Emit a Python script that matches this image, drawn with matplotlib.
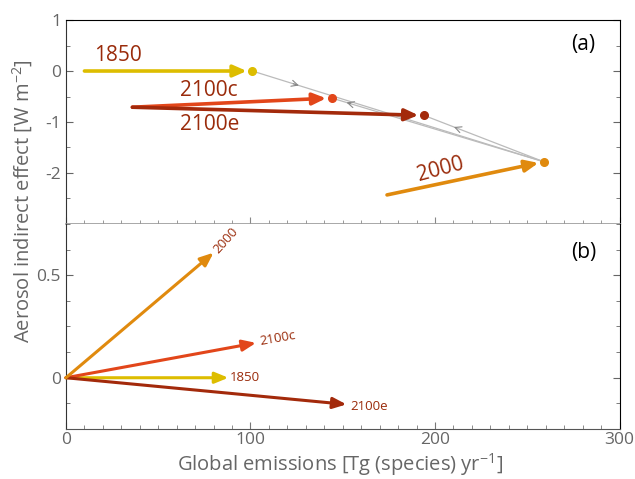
import matplotlib
matplotlib.use("Agg")
import matplotlib.pyplot as plt
from matplotlib.ticker import MultipleLocator

plt.rcParams['font.family'] = ['Open Sans', 'DejaVu Sans']

# Panel (a): emissions [Tg/yr] vs aerosol indirect effect [W m-2]
cases = ["1850", "2100c", "2100e", "2000"]
start_emis = [10, 36, 36, 174]
start_aie = [0.0, -0.71, -0.71, -2.43]
end_emis = [101, 144, 194, 259]
end_aie = [0.0, -0.53, -0.87, -1.78]

# Panel (b): sensitivity vectors from the origin
vec_emis = [88, 103, 152, 80]
vec_aie = [0.0, 0.17, -0.13, 0.61]

colors = {"1850": "#DDBD00", "2000": "#E08A0E", "2100c": "#E2461A", "2100e": "#A32A0B"}
text_col = "#9A2B0B"
gray_txt = "#666666"

fig = plt.figure(figsize=(6.35, 4.79), dpi=100)
ax_a = fig.add_axes([0.1039, 0.5324, 0.8717, 0.4258])
ax_b = fig.add_axes([0.1039, 0.1044, 0.8717, 0.4280])

# gray trajectories between scenario endpoints, with direction chevrons
i1850, i2100c, i2100e, i2000 = 0, 1, 2, 3
paths = [(i1850, i2000, 0.14), (i2000, i2100c, 0.91), (i2000, i2100e, 0.73)]
for a, b, frac in paths:
    xa, ya = end_emis[a], end_aie[a]
    xb, yb = end_emis[b], end_aie[b]
    ax_a.plot([xa, xb], [ya, yb], color="#BBBBBB", lw=0.9, zorder=1)
    mx, my = xa + frac * (xb - xa), ya + frac * (yb - ya)
    dx, dy = (xb - xa) * 0.02, (yb - ya) * 0.02
    ax_a.annotate("", xy=(mx + dx, my + dy), xytext=(mx, my),
                  arrowprops=dict(arrowstyle="->,head_length=0.45,head_width=0.22",
                                  color="#888888", lw=0.8, shrinkA=0, shrinkB=0), zorder=1)

for k, name in enumerate(cases):
    c = colors[name]
    ax_a.annotate("", xy=(end_emis[k], end_aie[k]), xytext=(start_emis[k], start_aie[k]),
                  arrowprops=dict(arrowstyle="-|>,head_length=0.8,head_width=0.35",
                                  color=c, lw=2.6, shrinkA=0, shrinkB=4), zorder=3)
    ax_a.plot(end_emis[k], end_aie[k], "o", color=c, ms=5.5, zorder=4)

ax_a.text(15, 0.09, "1850", color=text_col, fontsize=15, va="bottom", ha="left")
ax_a.text(62, -0.39, "2100c", color=text_col, fontsize=15, va="center", ha="left")
ax_a.text(62, -1.05, "2100e", color=text_col, fontsize=15, va="center", ha="left")
ax_a.text(203, -1.93, "2000", color=text_col, fontsize=15, va="center", ha="center", rotation=15)
ax_a.text(0.935, 0.88, "(a)", transform=ax_a.transAxes, fontsize=15, ha="center", va="center")

ax_a.set_xlim(0, 300)
ax_a.set_ylim(-3, 1)
ax_a.set_yticks([1, 0, -1, -2])
ax_a.set_yticklabels(["1", "0", "-1", "-2"])
ax_a.yaxis.set_minor_locator(MultipleLocator(0.5))
ax_a.xaxis.set_major_locator(MultipleLocator(100))
ax_a.xaxis.set_minor_locator(MultipleLocator(10))
ax_a.tick_params(axis="x", which="both", labelbottom=False, direction="in", color="#888888")
ax_a.tick_params(axis="y", which="both", direction="in", right=True, color="#666666",
                 labelcolor=gray_txt, labelsize=12.5)
ax_a.tick_params(which="major", length=5)
ax_a.tick_params(which="minor", length=3)
ax_a.spines["bottom"].set_color("#999999")
ax_a.spines["bottom"].set_linewidth(1.2)
ax_a.spines["left"].set_color("#333333")

order_b = ["1850", "2100c", "2100e", "2000"]
for k, name in enumerate(order_b):
    ax_b.annotate("", xy=(vec_emis[k], vec_aie[k]), xytext=(0, 0),
                  arrowprops=dict(arrowstyle="-|>,head_length=0.8,head_width=0.33",
                                  color=colors[name], lw=2.2, shrinkA=0, shrinkB=0), zorder=3)

ax_b.text(81, 0.615, "2000", color=text_col, fontsize=9.5, rotation=48, ha="left", va="center",
          rotation_mode="anchor")
ax_b.text(105, 0.175, "2100c", color=text_col, fontsize=9.5, rotation=10, ha="left", va="center",
          rotation_mode="anchor")
ax_b.text(89, 0.0, "1850", color=text_col, fontsize=9.5, ha="left", va="center")
ax_b.text(154, -0.14, "2100e", color=text_col, fontsize=9.5, ha="left", va="center")
ax_b.text(0.935, 0.86, "(b)", transform=ax_b.transAxes, fontsize=15, ha="center", va="center")

ax_b.set_xlim(0, 300)
ax_b.set_ylim(-0.25, 0.75)
ax_b.set_yticks([0, 0.5])
ax_b.set_yticklabels(["0", "0.5"])
ax_b.yaxis.set_minor_locator(MultipleLocator(0.125))
ax_b.xaxis.set_major_locator(MultipleLocator(100))
ax_b.xaxis.set_minor_locator(MultipleLocator(10))
ax_b.tick_params(axis="x", which="both", direction="in", color="#777777",
                 labelcolor=gray_txt, labelsize=12.5, pad=2.5)
ax_b.tick_params(axis="y", which="both", direction="in", right=True, color="#666666",
                 labelcolor=gray_txt, labelsize=12.5)
ax_b.tick_params(which="major", length=5)
ax_b.tick_params(which="minor", length=3)
ax_b.spines["top"].set_visible(False)
ax_b.spines["bottom"].set_color("#555555")
ax_b.spines["left"].set_color("#333333")

fig.text(0.036, 0.58, r"Aerosol indirect effect [W m$\mathregular{^{-2}}$]", rotation=90,
         ha="center", va="center", fontsize=14.5, color=gray_txt)
fig.text(0.535, 0.03, r"Global emissions [Tg (species) yr$\mathregular{^{-1}}$]", ha="center",
         va="center", fontsize=14.5, color=gray_txt)

fig.savefig("out.png", dpi=100)
